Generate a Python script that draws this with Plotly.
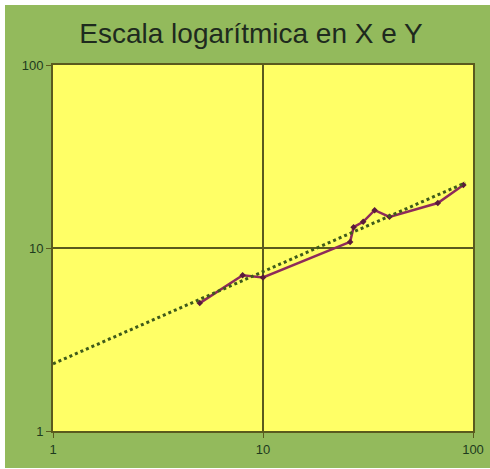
import numpy as np
import plotly.graph_objects as go

# Measured series (both axes logarithmic)
x_vals = [5, 8, 10, 26, 27, 30, 34, 40, 68, 90]
y_vals = [5.0, 7.1, 6.9, 10.8, 13.0, 13.9, 16.1, 14.8, 17.6, 22.1]

# Axis ticks
tick_vals = [1, 10, 100]
tick_text = ["1", "10", "100"]

# Power trendline y = a * x^b fitted in log-log space, extended back to x = 1
b, log_a = np.polyfit(np.log10(x_vals), np.log10(y_vals), 1)
trend_x = np.logspace(0, np.log10(92), 60)
trend_y = 10 ** log_a * trend_x ** b

W, H = 490, 469
ml, mr, mt, mb = 53, 17, 65, 38
pw, ph = W - ml - mr, H - mt - mb

fig = go.Figure()

fig.add_trace(go.Scatter(
    x=x_vals, y=y_vals, mode="lines+markers",
    line=dict(color="#8E2A5A", width=2.5),
    marker=dict(symbol="diamond", size=5, color="#5A1A3A"),
    showlegend=False, hoverinfo="skip",
))
fig.add_trace(go.Scatter(
    x=trend_x, y=trend_y, mode="lines",
    line=dict(color="#3E5A1A", width=3, dash="dot"),
    showlegend=False, hoverinfo="skip",
))

axis_common = dict(
    type="log", range=[0, 2], tickvals=tick_vals, ticktext=tick_text,
    showgrid=True, gridcolor="#5A5A1E", gridwidth=1.5,
    showline=True, linecolor="#5A5A1E", linewidth=2, mirror=True,
    ticks="outside", ticklen=5, tickcolor="#5A5A1E",
    tickfont=dict(family="Liberation Sans, Arial, sans-serif", size=13, color="#1E3A1E"),
    zeroline=False, fixedrange=True, automargin=False,
)

fig.update_layout(
    width=W, height=H,
    margin=dict(l=ml, r=mr, t=mt, b=mb, pad=0),
    paper_bgcolor="#93BA5C",
    plot_bgcolor="#FFFF66",
    title=dict(
        text="Escala logarítmica en X e Y",
        x=251 / W, xanchor="center", y=1 - 33 / H, yanchor="middle",
        font=dict(family="Liberation Sans, Arial, sans-serif", size=28, color="#1E2A1E"),
        automargin=False,
    ),
    xaxis=dict(**axis_common),
    yaxis=dict(**axis_common),
    shapes=[
        # thin white strips around the green panel
        dict(type="rect", xref="paper", yref="paper", layer="below", line_width=0,
             fillcolor="white", x0=-ml / pw, x1=(W - ml) / pw,
             y0=(H - mb - 5) / ph, y1=(H - mb) / ph),
        dict(type="rect", xref="paper", yref="paper", layer="below", line_width=0,
             fillcolor="white", x0=-ml / pw, x1=(5 - ml) / pw,
             y0=-mb / ph, y1=(H - mb) / ph),
        dict(type="rect", xref="paper", yref="paper", layer="below", line_width=0,
             fillcolor="white", x0=-ml / pw, x1=(W - ml) / pw,
             y0=-mb / ph, y1=(-mb + 1) / ph),
    ],
)

fig.write_html("out.html")
